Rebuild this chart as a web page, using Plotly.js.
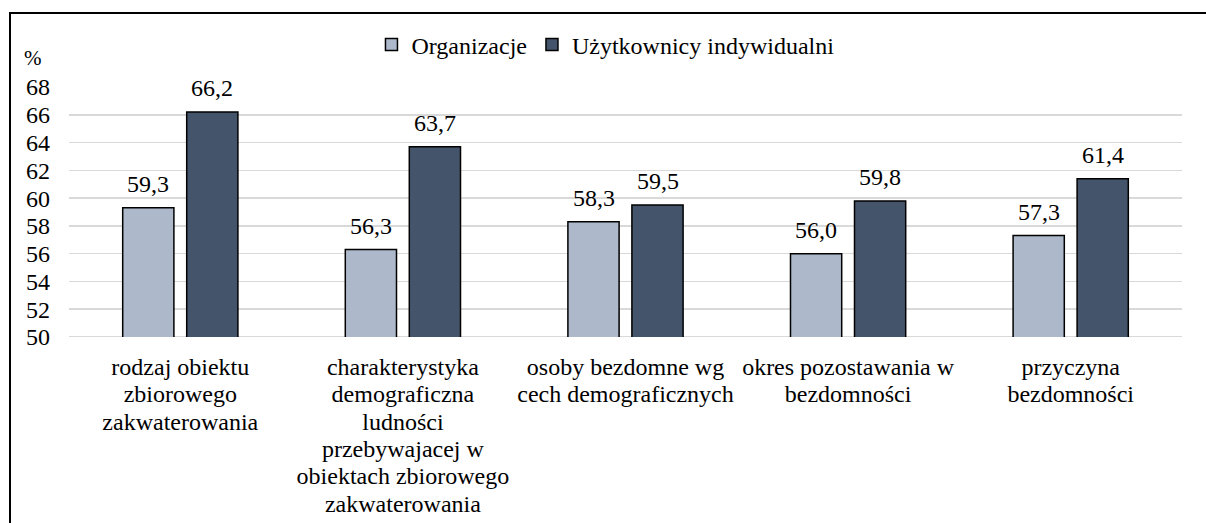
<!DOCTYPE html>
<html>
<head>
<meta charset="utf-8">
<script src="https://cdn.plot.ly/plotly-3.0.1.min.js"></script>
<style>
html,body{margin:0;padding:0;background:#fff;}
#wrap{position:relative;width:1206px;height:523px;overflow:hidden;}
#frame{position:absolute;left:9px;top:12px;width:1300px;height:600px;border-left:2px solid #000;border-top:2px solid #000;pointer-events:none;z-index:5;}
#chart{position:absolute;left:0;top:0;width:1206px;height:523px;}
</style>
</head>
<body>
<div id="wrap"><div id="chart"></div><div id="frame"></div></div>
<script>
const categories = [
  "rodzaj obiektu<br>zbiorowego<br>zakwaterowania",
  "charakterystyka<br>demograficzna<br>ludności<br>przebywajacej w<br>obiektach zbiorowego<br>zakwaterowania",
  "osoby bezdomne wg<br>cech demograficznych",
  "okres pozostawania w<br>bezdomności",
  "przyczyna<br>bezdomności"
];
const seriesNames = ["Organizacje", "Użytkownicy indywidualni"];
const organizacje = [59.3, 56.3, 58.3, 56.0, 57.3];
const uzytkownicy = [66.2, 63.7, 59.5, 59.8, 61.4];
const yTicks = [50, 52, 54, 56, 58, 60, 62, 64, 66, 68];

const FAM = "Liberation Serif";
const F = (s) => ({family: FAM, size: s, color: "#000"});
const fmt = (v) => v.toFixed(1).replace(".", ",");

const mk = (name, vals, color) => ({
  type: "bar", name: name, x: categories, y: vals,
  marker: {color: color, line: {color: "#000", width: 1.5}},
  hoverinfo: "skip"
});

const data = [
  mk(seriesNames[0], organizacje, "#ADB9CA"),
  mk(seriesNames[1], uzytkownicy, "#44546A")
];

const valueLabels = [];
[[organizacje, -32], [uzytkownicy, 32]].forEach(([vals, dx]) => {
  vals.forEach((v, i) => valueLabels.push({
    x: categories[i], y: v, xref: "x", yref: "y", text: fmt(v),
    xshift: dx, yshift: 9, xanchor: "center", yanchor: "bottom",
    showarrow: false, font: F(24)
  }));
});

const layout = {
  width: 1206, height: 523,
  margin: {l: 69, r: 24, t: 87, b: 186},
  paper_bgcolor: "#fff", plot_bgcolor: "#fff",
  font: F(24),
  separators: ", ",
  barmode: "group", bargap: 0.425, bargroupgap: 0.2,
  showlegend: true,
  legend: {orientation: "h", x: 0.482, xanchor: "center", y: 1.168, yanchor: "middle",
           font: F(24), tracegroupgap: 0, itemwidth: 30},
  xaxis: {showgrid: false, showline: false, ticks: "", tickfont: F(24),
          ticklabelstandoff: 13, automargin: false},
  yaxis: {range: [50, 68], tickvals: yTicks, ticktext: yTicks.map(String),
          showgrid: true, gridcolor: "#D9D9D9", gridwidth: 1.5,
          zeroline: false, showline: false, ticks: "", tickfont: F(24),
          ticklabelstandoff: 18, automargin: false},
  shapes: [{type: "line", xref: "paper", yref: "y", x0: 0, x1: 1, y0: 50, y1: 50,
            line: {color: "#D9D9D9", width: 2}, layer: "below"}],
  annotations: valueLabels.concat([{text: "%", xref: "paper", yref: "paper", x: -0.0323, y: 1.116,
                 xanchor: "center", yanchor: "middle", showarrow: false, font: F(21)}])
};

Plotly.newPlot("chart", data, layout, {displayModeBar: false, staticPlot: true}).then(gd => {
  // tighten multi-line category label spacing (Excel-like)
  const k = 1.14 / 1.3;
  gd.querySelectorAll(".xtick text tspan.line").forEach(t => {
    const dy = t.getAttribute("dy");
    if (dy && /em$/.test(dy)) t.setAttribute("dy", (parseFloat(dy) * k).toFixed(3) + "em");
  });
});
</script>
</body>
</html>
